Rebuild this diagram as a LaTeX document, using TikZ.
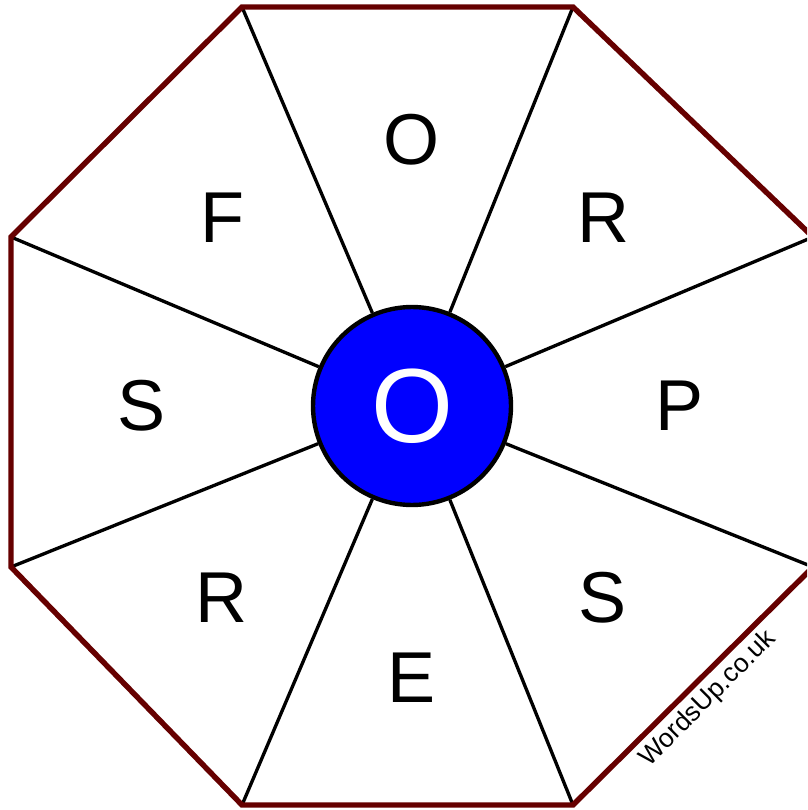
\documentclass[tikz,border=0pt]{standalone}
\usepackage{fontspec}
\setmainfont{Liberation Sans}
\begin{document}
\begin{tikzpicture}[x=0.02cm, y=-0.02cm]
  \useasboundingbox (0,0) rectangle (807,810);
  \clip (0,0) rectangle (807,810);
  % octagon corners
  \coordinate (v1) at (242,7);
  \coordinate (v2) at (573,7);
  \coordinate (v3) at (813,237);
  \coordinate (v4) at (813,567);
  \coordinate (v5) at (573,805);
  \coordinate (v6) at (242,805);
  \coordinate (v7) at (11,567);
  \coordinate (v8) at (11,237);
  % centre letter
  \node[circle,draw,line width=2.5pt,fill={rgb,255:red,0;green,0;blue,255},minimum size=3.96cm,inner sep=0pt,
        text=white,font=\fontsize{60}{60}\selectfont] (c) at (412,406) {O};
  % spokes out to the corners
  \draw[line width=1.9pt] (c) -- (v1);
  \draw[line width=1.9pt] (c) -- (v2);
  \draw[line width=1.9pt] (c) -- (v3);
  \draw[line width=1.9pt] (c) -- (v4);
  \draw[line width=1.9pt] (c) -- (v5);
  \draw[line width=1.9pt] (c) -- (v6);
  \draw[line width=1.9pt] (c) -- (v7);
  \draw[line width=1.9pt] (c) -- (v8);
  \draw[line width=3.1pt,line join=miter,color={rgb,255:red,102;green,0;blue,0}]
    (v1) -- (v2) -- (v3) -- (v4) -- (v5) -- (v6) -- (v7) -- (v8) -- cycle;
  % outer letters
  \node[font=\fontsize{41}{41}\selectfont] (l1) at (412,140) {O};
  \node[font=\fontsize{41}{41}\selectfont] (l2) at (603,218) {R};
  \node[font=\fontsize{41}{41}\selectfont] (l3) at (680,406) {P};
  \node[font=\fontsize{41}{41}\selectfont] (l4) at (603,598) {S};
  \node[font=\fontsize{41}{41}\selectfont] (l5) at (412,678) {E};
  \node[font=\fontsize{41}{41}\selectfont] (l6) at (222,598) {R};
  \node[font=\fontsize{41}{41}\selectfont] (l7) at (142,406) {S};
  \node[font=\fontsize{41}{41}\selectfont] (l8) at (222,218) {F};
  \node[rotate=45,inner sep=0pt,font=\fontsize{15}{15}\selectfont] (w) at (708,699) {WordsUp.co.uk};
\end{tikzpicture}
\end{document}
